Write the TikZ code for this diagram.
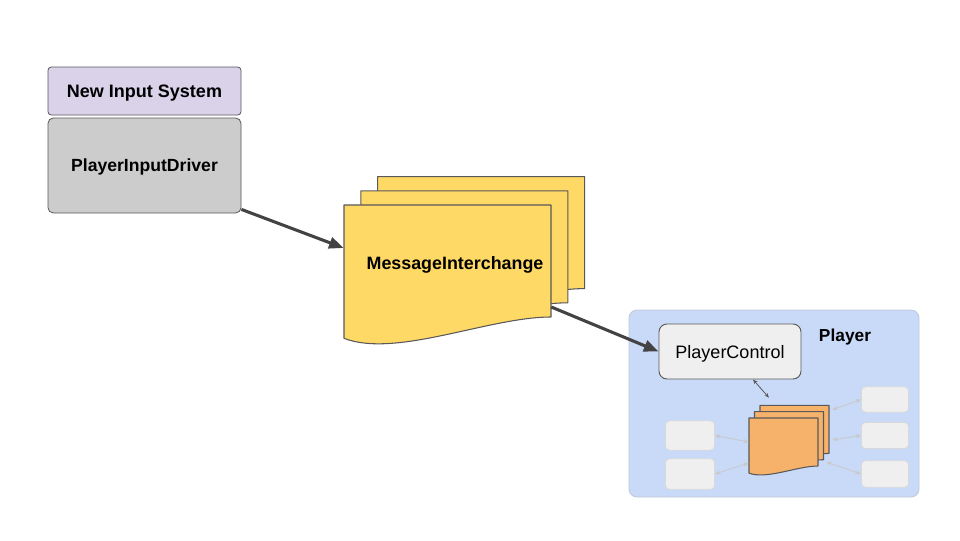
\documentclass[tikz,border=0pt]{standalone}
\usepackage{fontspec}
\setmainfont{Liberation Sans}
\usetikzlibrary{arrows.meta, positioning}
\definecolor{inputpurple}{HTML}{D9D2E9}
\definecolor{drivergray}{HTML}{CCCCCC}
\definecolor{msgyellow}{HTML}{FFD966}
\definecolor{queueorange}{HTML}{F6B26B}
\definecolor{playerblue}{HTML}{C9DAF8}
\definecolor{playerline}{HTML}{BFC8D8}
\definecolor{ctrlgray}{HTML}{EFEFEF}
\definecolor{slotline}{HTML}{D9D9D9}
\definecolor{edgegray}{HTML}{595959}
\definecolor{arrowgray}{HTML}{434343}
\definecolor{faintarrow}{HTML}{C8C8C8}
% one sheet with a wavy bottom: x, y, width, right height, fill
\newcommand{\docsheet}[5]{%
  \filldraw[fill=#5, draw=edgegray, line width=0.8pt, line join=round]
    (#1,#2) -- ({#1+#3},#2) -- ({#1+#3},{#2+#4})
    .. controls ({#1+0.7*#3},{#2+#4}) and ({#1+0.25*#3},{#2+#4+0.2*#3})
    .. (#1,{#2+#4+0.103*#3}) -- cycle;}

\begin{document}
\begin{tikzpicture}[x=0.75pt, y=-0.75pt,
    boxlabel/.style={font=\bfseries\fontsize{13.5}{15}\selectfont, text depth=0pt},
    inputbox/.style={draw=edgegray, line width=0.6pt, rounded corners=2.5pt, boxlabel},
    slot/.style={draw=slotline, fill=ctrlgray, line width=0.6pt, rounded corners=3pt},
    sheetarea/.style={inner sep=0pt},
    mainarrow/.style={draw=arrowgray, line width=2.3pt, -{Triangle[length=11pt,width=8.5pt]}},
    linkarrow/.style={draw=edgegray, line width=0.6pt, {Stealth[length=3.5pt,width=2.8pt]}-{Stealth[length=3.5pt,width=2.8pt]}},
    faintlink/.style={draw=faintarrow, line width=0.6pt, {Stealth[length=4pt,width=3.2pt]}-{Stealth[length=4pt,width=3.2pt]}}]

    % canvas
    \useasboundingbox[fill=white] (0,0) rectangle (960,540);

    % input side
    \node[inputbox, fill=inputpurple, minimum width=144.75pt, minimum height=36pt] (inputsys) at (144.5,91) {New Input System};
    \node[inputbox, fill=drivergray, rounded corners=4pt, minimum width=144.75pt, minimum height=71.25pt, font=\bfseries\fontsize{13.2}{15}\selectfont] (driver) at (144.5,165.5) {PlayerInputDriver};

    % player container
    \node[draw=playerline, fill=playerblue, line width=0.6pt, rounded corners=6pt, minimum width=217.5pt, minimum height=140.25pt] (player) at (774,403.5) {};
    \node[font=\bfseries\fontsize{13}{15}\selectfont] (playerlabel) at (845,337.5) {Player};
    \node[draw=edgegray, fill=ctrlgray, line width=0.7pt, rounded corners=6pt, minimum width=106.5pt, minimum height=41.25pt, text depth=0pt, font=\fontsize{13.5}{16}\selectfont] (ctrl) at (730,351.5) {PlayerControl};

    % empty slots round the queue
    \node[slot, minimum width=36.75pt, minimum height=22pt] (left1) at (690,435.5) {};
    \node[slot, minimum width=36.75pt, minimum height=23pt] (left2) at (690,474) {};
    \node[slot, minimum width=35.25pt, minimum height=19pt] (right1) at (885,399.5) {};
    \node[slot, minimum width=35.25pt, minimum height=19.5pt] (right2) at (885,435.5) {};
    \node[slot, minimum width=35.25pt, minimum height=20pt] (right3) at (885,474) {};

    % orange queue, back to front
    \foreach \i in {2,1,0} {
        \docsheet{749+5.5*\i}{418-6.3*\i}{69}{48}{queueorange}
    }
    \node[sheetarea, minimum width=51.75pt, minimum height=36pt] (queue) at (783.5,442) {};

    \draw[faintlink] (left1.east) -- (queue.west);
    \draw[faintlink] (left2.east) -- ([yshift=-15.75pt]queue.west);
    \draw[faintlink] ([xshift=10.5pt,yshift=6pt]queue.north east) -- (right1.west);
    \draw[faintlink] ([xshift=10.5pt,yshift=1.5pt]queue.east) -- (right2.west);
    \draw[faintlink] ([xshift=6pt,yshift=-15pt]queue.east) -- (right3.west);
    \draw[linkarrow] ([xshift=17.25pt]ctrl.south) -- ([xshift=-10.9pt,yshift=15pt]queue.north);

    % message interchange stack, back to front
    \foreach \i in {2,1,0} {
        \docsheet{344+16.8*\i}{205-14.2*\i}{207}{112}{msgyellow}
    }
    \node[sheetarea, minimum width=155.25pt, minimum height=84pt] (msg) at (447.5,261) {};
    \node[font=\bfseries\fontsize{13.4}{15}\selectfont] (msglabel) at (455,265) {MessageInterchange};

    % flow
    \draw[mainarrow] ([yshift=3pt]driver.south east) -- ([yshift=9.75pt]msg.west);
    \draw[mainarrow] ([yshift=-34.5pt]msg.east) -- (ctrl.west);
\end{tikzpicture}
\end{document}
